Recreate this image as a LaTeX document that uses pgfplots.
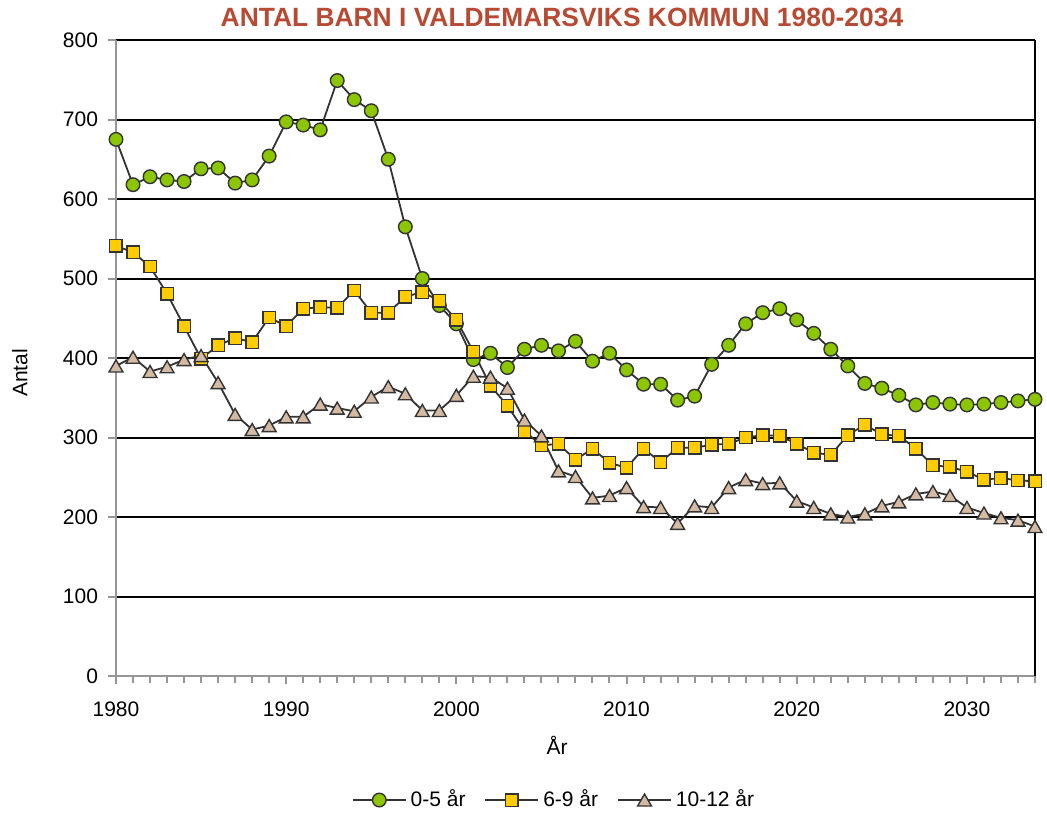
\documentclass[border=0pt]{standalone}
\usepackage{pgfplots}
\pgfplotsset{compat=1.18}
\usepackage{fontspec}
\setmainfont{Liberation Sans}
\definecolor{titlered}{RGB}{184,74,52}
\definecolor{cgreen}{RGB}{140,198,0}
\definecolor{cyellow}{RGB}{255,204,0}
\definecolor{ctan}{RGB}{212,186,162}
\definecolor{cline}{RGB}{51,51,51}
\definecolor{caxis}{RGB}{150,150,150}
\newcommand{\lblfont}{\fontsize{10.5bp}{12.6bp}\selectfont}
\begin{document}
\begin{tikzpicture}
\useasboundingbox (-58bp,-70.5bp) rectangle (465.5bp,338bp);
\begin{axis}[
  at={(0,0)}, anchor=south west,
  scale only axis, width=459.5bp, height=318bp,
  xmin=1980, xmax=2034, ymin=0, ymax=800,
  clip=false,
  xtick={1980,1990,...,2030},
  minor xtick={1980,...,2034},
  ytick={0,100,...,800},
  ymajorgrids,
  major grid style={black, line width=1bp},
  axis x line*=bottom, axis y line*=left,
  axis line style={caxis, line width=1.1bp, -},
  tick style={caxis, line width=1bp},
  tick align=outside,
  major tick length=4bp, minor tick length=3.5bp,
  /pgf/number format/1000 sep={},
  /pgf/number format/assume math mode=true,
  ticklabel style={font=\lblfont, text=black},
  xticklabel shift=5.5bp,
  yticklabel shift=1.5bp,
  xlabel={År},
  xlabel style={at={(axis description cs:0.4799,-0.1085)}, anchor=center, font=\lblfont},
  ylabel={Antal},
  ylabel style={at={(axis description cs:-0.1045,0.4764)}, anchor=center, rotate=0, font=\lblfont},
  legend columns=3,
  legend style={at={(axis description cs:0.4777,-0.195)}, anchor=center,
    draw=none, fill=none, font=\lblfont,
    /tikz/every even column/.append style={column sep=7.5bp}},
  legend image code/.code={\draw[mark repeat=2,mark phase=2,#1] plot coordinates {(0bp,0bp) (13.25bp,0bp) (26.5bp,0bp)};},
  every axis plot/.append style={line width=0.9bp, color=cline},
]
\draw[black, line width=1bp] (rel axis cs:1,0) -- (rel axis cs:1,1);
\addplot[cline, line width=0.9bp, mark=*, mark size=3.4bp,
  mark options={fill=cgreen, draw=cline, line width=0.7bp}] coordinates {
(1980,675) (1981,618) (1982,628) (1983,624) (1984,622) (1985,638) (1986,639) (1987,620) (1988,624) (1989,654)
(1990,697) (1991,693) (1992,687) (1993,749) (1994,725) (1995,711) (1996,650) (1997,565) (1998,500) (1999,466)
(2000,443) (2001,398) (2002,406) (2003,388) (2004,411) (2005,416) (2006,409) (2007,421) (2008,396) (2009,406)
(2010,385) (2011,367) (2012,367) (2013,347) (2014,352) (2015,392) (2016,416) (2017,443) (2018,457) (2019,462)
(2020,448) (2021,431) (2022,411) (2023,390) (2024,368) (2025,362) (2026,353) (2027,341) (2028,344) (2029,342)
(2030,341) (2031,342) (2032,344) (2033,346) (2034,348)
};
\addlegendentry{0-5 år}
\addplot[cline, line width=0.9bp, mark=square*, mark size=3.1bp,
  mark options={fill=cyellow, draw=cline, line width=0.7bp}] coordinates {
(1980,541) (1981,533) (1982,515) (1983,481) (1984,440) (1985,399) (1986,416) (1987,425) (1988,420) (1989,451)
(1990,440) (1991,462) (1992,464) (1993,463) (1994,485) (1995,457) (1996,457) (1997,477) (1998,483) (1999,472)
(2000,448) (2001,408) (2002,365) (2003,340) (2004,308) (2005,290) (2006,292) (2007,272) (2008,286) (2009,268)
(2010,262) (2011,286) (2012,269) (2013,287) (2014,287) (2015,291) (2016,292) (2017,300) (2018,303) (2019,302)
(2020,292) (2021,281) (2022,278) (2023,303) (2024,316) (2025,304) (2026,302) (2027,286) (2028,265) (2029,263)
(2030,257) (2031,247) (2032,249) (2033,246) (2034,245)
};
\addlegendentry{6-9 år}
\addplot[cline, line width=0.9bp, mark=triangle*, mark size=4bp,
  mark options={fill=ctan, draw=cline, line width=0.7bp, yshift=-1bp}] coordinates {
(1980,390) (1981,401) (1982,383) (1983,389) (1984,398) (1985,403) (1986,369) (1987,329) (1988,310) (1989,315)
(1990,326) (1991,326) (1992,342) (1993,337) (1994,333) (1995,351) (1996,364) (1997,355) (1998,334) (1999,334)
(2000,353) (2001,377) (2002,376) (2003,362) (2004,322) (2005,302) (2006,258) (2007,251) (2008,224) (2009,227)
(2010,237) (2011,213) (2012,212) (2013,192) (2014,214) (2015,212) (2016,237) (2017,247) (2018,242) (2019,243)
(2020,220) (2021,212) (2022,204) (2023,200) (2024,204) (2025,214) (2026,219) (2027,229) (2028,232) (2029,227)
(2030,212) (2031,205) (2032,199) (2033,196) (2034,188)
};
\addlegendentry{10-12 år}
\end{axis}
\node[anchor=base, font=\fontsize{13.2bp}{15bp}\selectfont\bfseries, text=titlered, inner sep=0pt]
  at (223bp,324.5bp) {ANTAL BARN I VALDEMARSVIKS KOMMUN 1980-2034};
\end{tikzpicture}
\end{document}
